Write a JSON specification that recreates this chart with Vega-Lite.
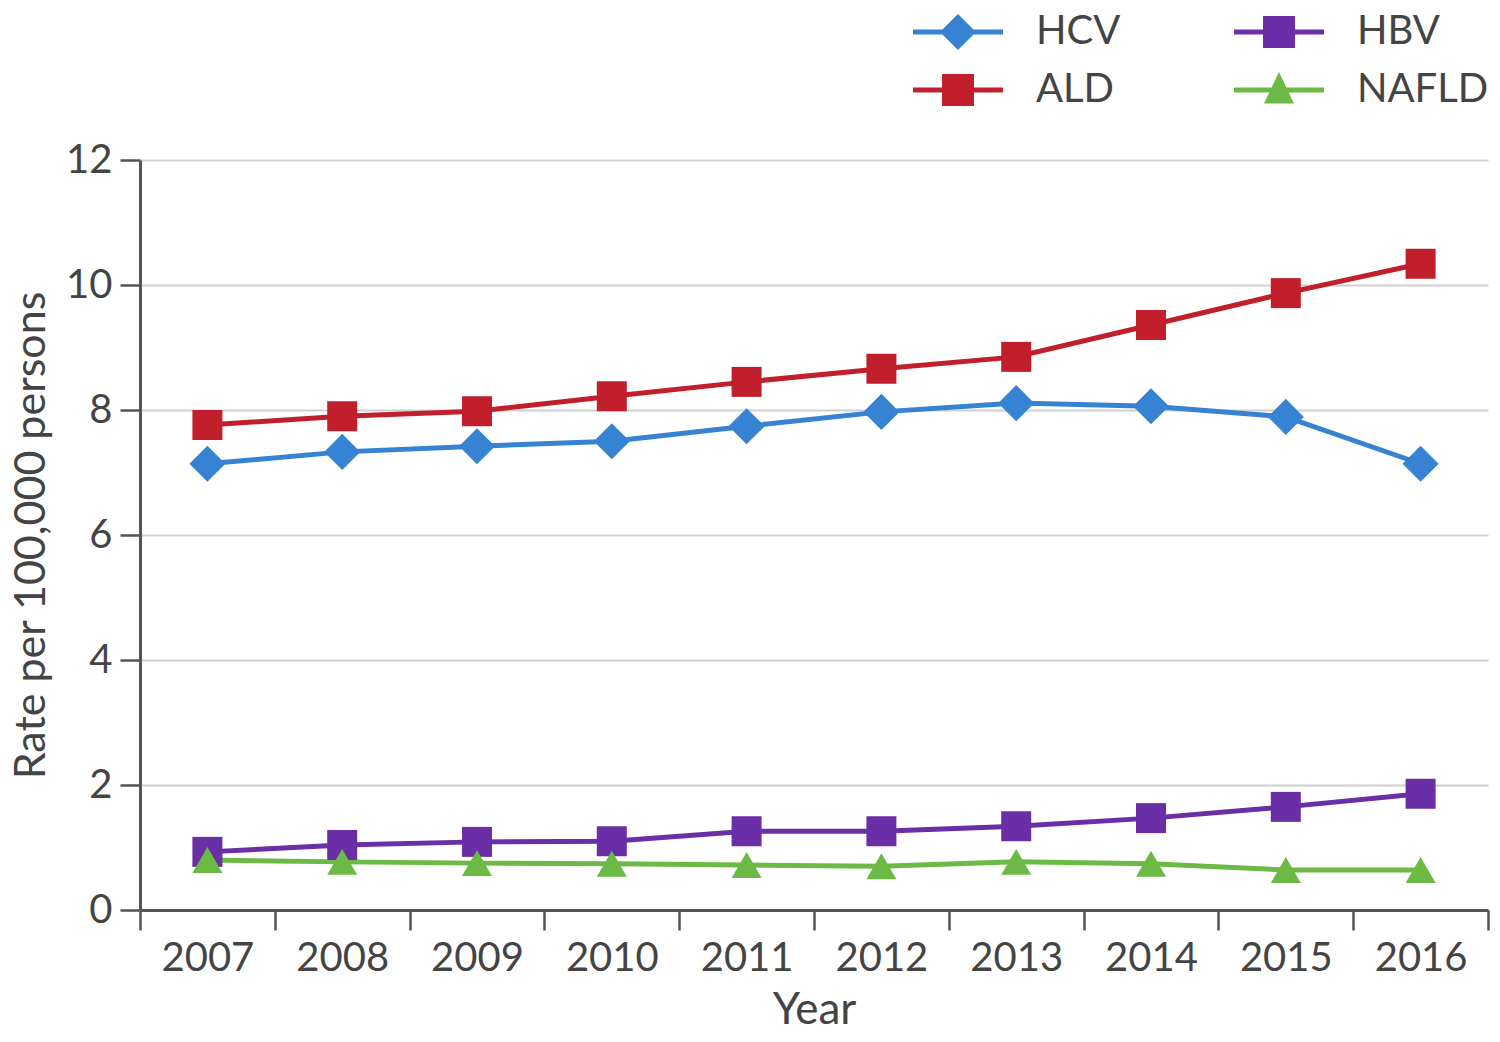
{
  "$schema": "https://vega.github.io/schema/vega-lite/v6.json",
  "width": 1348,
  "height": 750,
  "autosize": {"type": "none"},
  "padding": {"left": 140, "top": 160, "right": 12, "bottom": 132},
  "background": "white",
  "data": {"values": [
    {"year": "2007", "series": "HCV", "rate": 7.14},
    {"year": "2008", "series": "HCV", "rate": 7.33},
    {"year": "2009", "series": "HCV", "rate": 7.42},
    {"year": "2010", "series": "HCV", "rate": 7.5},
    {"year": "2011", "series": "HCV", "rate": 7.74},
    {"year": "2012", "series": "HCV", "rate": 7.97},
    {"year": "2013", "series": "HCV", "rate": 8.11},
    {"year": "2014", "series": "HCV", "rate": 8.06},
    {"year": "2015", "series": "HCV", "rate": 7.89},
    {"year": "2016", "series": "HCV", "rate": 7.14},
    {"year": "2007", "series": "ALD", "rate": 7.76},
    {"year": "2008", "series": "ALD", "rate": 7.9},
    {"year": "2009", "series": "ALD", "rate": 7.98},
    {"year": "2010", "series": "ALD", "rate": 8.22},
    {"year": "2011", "series": "ALD", "rate": 8.45},
    {"year": "2012", "series": "ALD", "rate": 8.66},
    {"year": "2013", "series": "ALD", "rate": 8.85},
    {"year": "2014", "series": "ALD", "rate": 9.36},
    {"year": "2015", "series": "ALD", "rate": 9.87},
    {"year": "2016", "series": "ALD", "rate": 10.34},
    {"year": "2007", "series": "HBV", "rate": 0.93},
    {"year": "2008", "series": "HBV", "rate": 1.04},
    {"year": "2009", "series": "HBV", "rate": 1.09},
    {"year": "2010", "series": "HBV", "rate": 1.1},
    {"year": "2011", "series": "HBV", "rate": 1.26},
    {"year": "2012", "series": "HBV", "rate": 1.26},
    {"year": "2013", "series": "HBV", "rate": 1.34},
    {"year": "2014", "series": "HBV", "rate": 1.47},
    {"year": "2015", "series": "HBV", "rate": 1.65},
    {"year": "2016", "series": "HBV", "rate": 1.86},
    {"year": "2007", "series": "NAFLD", "rate": 0.8},
    {"year": "2008", "series": "NAFLD", "rate": 0.77},
    {"year": "2009", "series": "NAFLD", "rate": 0.75},
    {"year": "2010", "series": "NAFLD", "rate": 0.74},
    {"year": "2011", "series": "NAFLD", "rate": 0.72},
    {"year": "2012", "series": "NAFLD", "rate": 0.7},
    {"year": "2013", "series": "NAFLD", "rate": 0.77},
    {"year": "2014", "series": "NAFLD", "rate": 0.74},
    {"year": "2015", "series": "NAFLD", "rate": 0.64},
    {"year": "2016", "series": "NAFLD", "rate": 0.64}
  ]},
  "encoding": {
    "x": {
      "field": "year", "type": "ordinal",
      "scale": {"type": "band", "paddingInner": 0, "paddingOuter": 0},
      "axis": {
        "title": "Year", "labelAngle": 0, "tickBand": "extent",
        "tickSize": 20, "labelPadding": 8, "titlePadding": 10,
        "labelFontSize": 40, "titleFontSize": 44
      }
    },
    "y": {
      "field": "rate", "type": "quantitative",
      "scale": {"domain": [0, 12]},
      "axis": {
        "title": "Rate per 100,000 persons", "values": [0, 2, 4, 6, 8, 10, 12],
        "tickSize": 20, "labelPadding": 8, "titlePadding": 12,
        "labelFontSize": 40, "titleFontSize": 43, "grid": true
      }
    },
    "color": {
      "field": "series", "type": "nominal",
      "scale": {"domain": ["HCV", "ALD", "HBV", "NAFLD"], "range": ["#3583d2", "#c21f2c", "#6a2fa6", "#6cba45"]},
      "legend": {
        "title": null, "orient": "none", "legendX": 790, "legendY": -156,
        "columns": 2, "columnPadding": 113, "rowPadding": 10, "padding": 0,
        "symbolSize": 3136, "labelOffset": 50, "labelFontSize": 40,
        "labelColor": "#444444", "labelFont": "Lato",
        "encode": {
          "symbols": {"update": {
            "shape": {"signal": "datum.value === 'HCV' ? 'M-1.607,-0.089L-0.554,-0.089L0,-0.643L0.554,-0.089L1.607,-0.089L1.607,0.089L0.554,0.089L0,0.643L-0.554,0.089L-1.607,0.089Z' : datum.value === 'NAFLD' ? 'M-1.607,-0.089L-0.264,-0.089L0,-0.643L0.264,-0.089L1.607,-0.089L1.607,0.089L0.349,0.089L0.536,0.482L-0.536,0.482L-0.349,0.089L-1.607,0.089Z' : 'M-1.607,-0.089L-0.571,-0.089L-0.571,-0.571L0.571,-0.571L0.571,-0.089L1.607,-0.089L1.607,0.089L0.571,0.089L0.571,0.571L-0.571,0.571L-0.571,0.089L-1.607,0.089Z'"},
            "fill": {"signal": "scale('color', datum.value)"},
            "stroke": {"value": "transparent"},
            "strokeWidth": {"value": 0},
            "opacity": {"value": 1}
          }}
        }
      }
    }
  },
  "layer": [
    {"mark": {"type": "line", "strokeWidth": 5}},
    {
      "transform": [{"filter": "datum.series === 'HCV'"}],
      "mark": {"type": "point", "filled": true, "opacity": 1, "shape": "diamond", "size": 1300}
    },
    {
      "transform": [{"filter": "datum.series === 'HBV' || datum.series === 'ALD'"}],
      "mark": {"type": "point", "filled": true, "opacity": 1, "shape": "square", "size": 900}
    },
    {
      "transform": [{"filter": "datum.series === 'NAFLD'"}],
      "mark": {"type": "point", "filled": true, "opacity": 1, "shape": "triangle-up", "size": 900}
    }
  ],
  "config": {
    "view": {"stroke": null},
    "font": "Lato",
    "axis": {
      "labelColor": "#444444", "titleColor": "#444444", "titleFontWeight": "normal",
      "domainColor": "#555555", "domainWidth": 3, "tickColor": "#555555", "tickWidth": 2.5,
      "gridColor": "#d0d0d0", "gridWidth": 2, "labelFont": "Lato", "titleFont": "Lato"
    },
    "axisX": {"grid": false}
  }
}
